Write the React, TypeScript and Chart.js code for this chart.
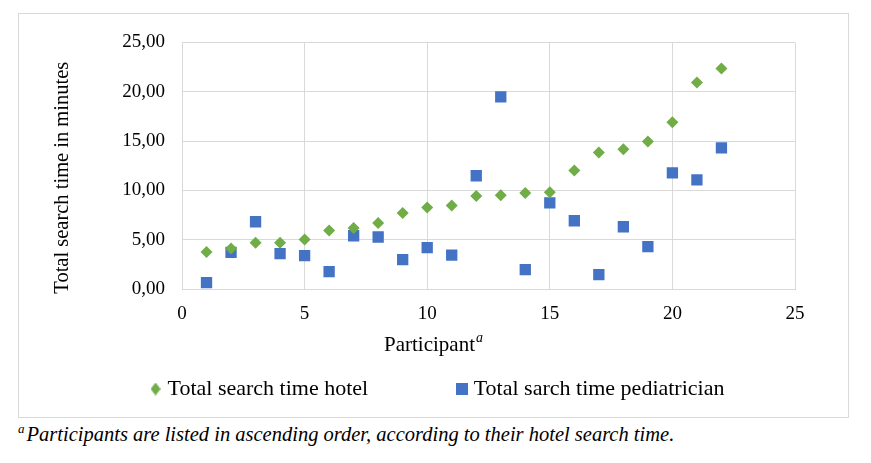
import React, { useEffect, useRef } from 'react';
import { Chart, registerables } from 'chart.js';

Chart.register(...registerables);

const participants = [1, 2, 3, 4, 5, 6, 7, 8, 9, 10, 11, 12, 13, 14, 15, 16, 17, 18, 19, 20, 21, 22];
const hotelTimes = [3.75, 4.1, 4.69, 4.69, 5.03, 5.94, 6.18, 6.68, 7.7, 8.27, 8.47, 9.42, 9.5, 9.72, 9.82, 12.02, 13.84, 14.18, 14.96, 16.91, 20.93, 22.35];
const pediatricianTimes = [0.64, 3.71, 6.82, 3.58, 3.38, 1.76, 5.4, 5.27, 2.97, 4.19, 3.44, 11.48, 19.48, 1.96, 8.74, 6.92, 1.45, 6.31, 4.29, 11.78, 11.07, 14.31];

const seriesLabels = ['Total search time hotel', 'Total sarch time pediatrician'];
const xTitle = 'Participant';
const xTitleSup = 'a';
const yTitle = 'Total search time in minutes';
const footnoteSup = 'a';
const footnoteText = 'Participants are listed in ascending order, according to their hotel search time.';

const FONT = "'Liberation Serif', 'Times New Roman', serif";
const GREEN = '#70ad47';
const BLUE = '#4472c4';
const GRID = '#d9d9d9';

function makeLegendMarker(kind: 'diamond' | 'square', color: string): HTMLCanvasElement {
  const c = document.createElement('canvas');
  if (kind === 'diamond') {
    c.width = 10;
    c.height = 13;
    const g = c.getContext('2d')!;
    g.fillStyle = color;
    g.beginPath();
    g.moveTo(5, 0);
    g.lineTo(10, 6.5);
    g.lineTo(5, 13);
    g.lineTo(0, 6.5);
    g.closePath();
    g.fill();
  } else {
    c.width = 12;
    c.height = 12;
    const g = c.getContext('2d')!;
    g.fillStyle = color;
    g.fillRect(0, 0, 12, 12);
  }
  return c;
}

const titlePlugin = {
  id: 'customAxisTitles',
  afterDraw(chart: any) {
    const ctx = chart.ctx;
    const area = chart.chartArea;
    ctx.save();
    ctx.fillStyle = '#000';
    ctx.textBaseline = 'middle';
    ctx.textAlign = 'left';
    ctx.font = `21px ${FONT}`;
    const mw = ctx.measureText(xTitle).width;
    ctx.font = `italic 14px ${FONT}`;
    const sw = ctx.measureText(xTitleSup).width;
    const startX = chart.width / 2 - (mw + sw + 1) / 2;
    const ty = area.bottom + 56.5;
    ctx.font = `21px ${FONT}`;
    ctx.fillText(xTitle, startX, ty);
    ctx.font = `italic 14px ${FONT}`;
    ctx.fillText(xTitleSup, startX + mw + 1, ty - 7);

    ctx.translate(44, area.top + area.height / 2 + 12);
    ctx.rotate(-Math.PI / 2);
    ctx.textAlign = 'center';
    ctx.font = `20.5px ${FONT}`;
    ctx.fillText(yTitle, 0, 0);
    ctx.restore();
  },
};

export default function App() {
  const canvasRef = useRef<HTMLCanvasElement | null>(null);

  useEffect(() => {
    if (!canvasRef.current) return;
    const legendMarkers = [makeLegendMarker('diamond', GREEN), makeLegendMarker('square', BLUE)];
    const chart = new Chart(canvasRef.current, {
      type: 'scatter',
      data: {
        datasets: [
          {
            label: seriesLabels[0],
            data: participants.map((p, i) => ({ x: p, y: hotelTimes[i] })),
            pointStyle: 'rectRot',
            pointRadius: 6,
            pointHoverRadius: 6,
            backgroundColor: GREEN,
            borderColor: GREEN,
            borderWidth: 0,
            pointBorderWidth: 0,
          },
          {
            label: seriesLabels[1],
            data: participants.map((p, i) => ({ x: p, y: pediatricianTimes[i] })),
            pointStyle: 'rect',
            pointRadius: 8,
            pointHoverRadius: 8,
            backgroundColor: BLUE,
            borderColor: BLUE,
            borderWidth: 0,
            pointBorderWidth: 0,
          },
        ],
      },
      options: {
        responsive: false,
        animation: false,
        layout: { padding: { left: 12, right: 0, top: 28, bottom: 7 } },
        plugins: {
          tooltip: { enabled: false },
          legend: {
            position: 'bottom',
            labels: {
              usePointStyle: true,
              pointStyleWidth: 2,
              boxHeight: 11,
              padding: 10,
              color: '#000',
              font: { family: FONT, size: 22 },
              generateLabels: (c: any) => {
                const items = (Chart.defaults.plugins.legend.labels as any).generateLabels(c);
                return items.map((it: any, i: number) => ({
                  ...it,
                  pointStyle: legendMarkers[i],
                  text: i === 0 ? it.text + ' '.repeat(15) : it.text,
                }));
              },
            },
          },
        },
        scales: {
          x: {
            type: 'linear',
            min: 0,
            max: 25,
            ticks: {
              stepSize: 5,
              padding: 14,
              color: '#000',
              font: { family: FONT, size: 19 },
            },
            grid: { color: GRID, drawTicks: false, lineWidth: 1 },
            border: { color: GRID },
            title: { display: false },
            afterFit: (s: any) => {
              s.height = 79;
            },
          },
          y: {
            type: 'linear',
            min: 0,
            max: 25,
            ticks: {
              stepSize: 5,
              padding: 17,
              color: '#000',
              font: { family: FONT, size: 19 },
              callback: (v: any) => Number(v).toFixed(2).replace('.', ','),
            },
            grid: { color: GRID, drawTicks: false, lineWidth: 1 },
            border: { color: GRID },
            title: { display: false },
            afterFit: (s: any) => {
              s.width = 151;
            },
          },
          yRight: {
            type: 'linear',
            position: 'right',
            display: true,
            ticks: { display: false },
            grid: { display: false, drawTicks: false },
            border: { display: false },
            afterFit: (s: any) => {
              s.width = 53;
            },
          },
        },
      } as any,
      plugins: [titlePlugin],
    });
    return () => chart.destroy();
  }, []);

  return (
    <div>
      <div
        style={{
          position: 'absolute',
          left: 18,
          top: 13,
          width: 829,
          height: 403,
          border: `1px solid ${GRID}`,
          background: '#fff',
        }}
      >
        <canvas ref={canvasRef} width={829} height={403} style={{ display: 'block' }} />
      </div>
      <div
        style={{
          position: 'absolute',
          left: 18,
          top: 423,
          fontFamily: FONT,
          fontStyle: 'italic',
          fontSize: 20.5,
          lineHeight: '23px',
          whiteSpace: 'nowrap',
          color: '#000',
        }}
      >
        <sup style={{ fontSize: 13, verticalAlign: 'super', lineHeight: 0, marginRight: 2 }}>{footnoteSup}</sup>
        {footnoteText}
      </div>
    </div>
  );
}
